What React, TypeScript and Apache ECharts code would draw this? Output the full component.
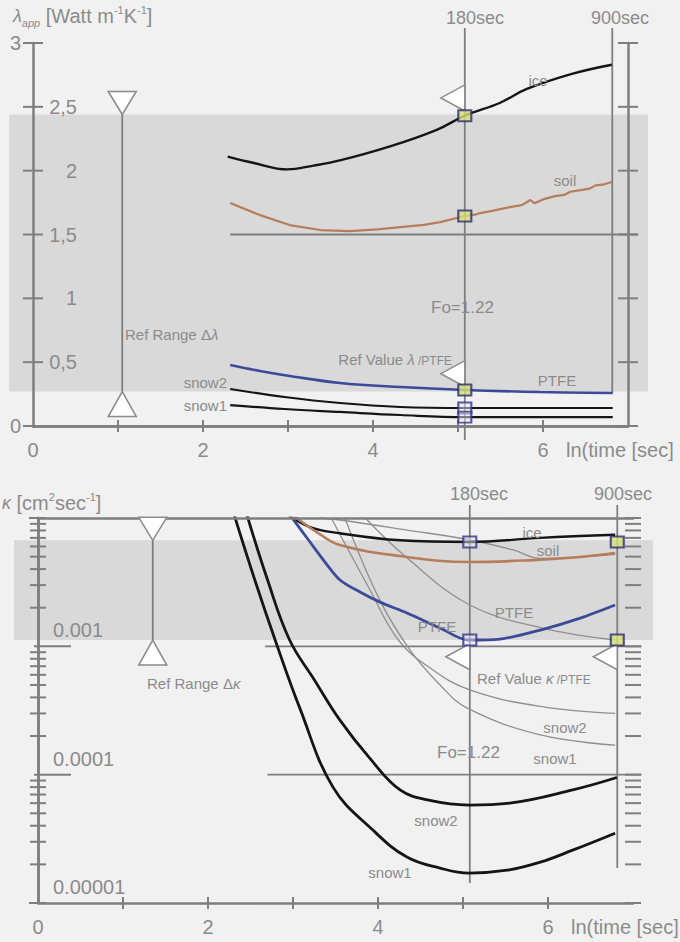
import React, { useEffect, useRef } from "react";
import * as echarts from "echarts";

const FONT = "'Liberation Sans', Arial, Helvetica, sans-serif";
const TXT = "#8b8b8b";
const AXIS = "#7e7e7e";
const BLACK = "#151515";
const SOIL = "#b67d5b";
const BLUE = "#3c4b98";
const THIN = "#8f8f8f";
const BAND = "#d9d9d9";
const BG = "#f1f1f1";

// ---------- shared x: ln(time [sec]) ----------
const X_MIN = 0;
const X_MAX = 7;
const T180 = 5.08;
const T900 = 6.815;
const xTickValues = [1, 2, 3, 4, 5, 6];

// ---------- top panel: lambda_app [W m-1 K-1] ----------
const lambdaTicks = [0, 0.5, 1, 1.5, 2, 2.5, 3];
const lambdaRefRange = [0.27, 2.44];
const lambdaRefRangeX = 1.05;
const lambdaRefLevel = 1.5;
const lambdaIce = [[2.29, 2.11], [2.6, 2.06], [2.99, 2.01], [3.3, 2.04], [3.61, 2.08], [4.2, 2.19], [4.75, 2.32], [5.08, 2.43], [5.49, 2.53], [5.81, 2.64], [6.35, 2.76], [6.81, 2.83]];
const lambdaSoil = [[2.32, 1.746], [2.67, 1.652], [3.02, 1.574], [3.38, 1.535], [3.73, 1.527], [4.05, 1.54], [4.32, 1.558], [4.6, 1.575], [4.79, 1.597], [5.08, 1.645], [5.2, 1.655], [5.26, 1.668], [5.4, 1.685], [5.61, 1.715], [5.75, 1.73], [5.85, 1.77], [5.9, 1.745], [6.0, 1.775], [6.14, 1.801], [6.25, 1.81], [6.32, 1.835], [6.44, 1.848], [6.55, 1.86], [6.62, 1.885], [6.7, 1.89], [6.81, 1.911]];
const lambdaPTFE = [[2.32, 0.478], [2.67, 0.431], [3.02, 0.392], [3.61, 0.337], [4.32, 0.305], [5.08, 0.282], [5.96, 0.266], [6.82, 0.258]];
const lambdaSnow2 = [[2.32, 0.29], [2.96, 0.227], [3.61, 0.18], [4.32, 0.149], [5.08, 0.141], [6.82, 0.141]];
const lambdaSnow1 = [[2.32, 0.164], [2.96, 0.133], [3.61, 0.11], [4.32, 0.086], [5.08, 0.07], [6.82, 0.07]];
const lambdaMarksFilled = [2.43, 1.645, 0.282];
const lambdaMarksOpen = [0.141, 0.07];
const lambdaRefValues = [2.57, 0.41];

// ---------- bottom panel: kappa [cm2 sec-1] ----------
const kappaDecades = [1e-5, 1e-4, 1e-3, 1e-2];
const kappaRefRange = [1.12e-3, 6.7e-3];
const kappaRefRangeX = 1.35;
const kappaRefLevels = [1e-3, 1e-4];
const kappaIce = [[2.9, 1.1e-2], [3.2, 8.5e-3], [3.55, 7.6e-3], [4.26, 6.7e-3], [5.08, 6.5e-3], [5.91, 7.0e-3], [6.79, 7.4e-3]];
const kappaSoil = [[3.0, 1.05e-2], [3.3, 7.6e-3], [3.55, 6.16e-3], [4.26, 5.05e-3], [5.08, 4.54e-3], [5.82, 4.7e-3], [6.38, 4.97e-3], [6.79, 5.33e-3]];
const kappaPTFE = [[2.99, 1.0e-2], [3.2, 6.5e-3], [3.376, 4.54e-3], [3.553, 3.29e-3], [3.788, 2.65e-3], [4.024, 2.21e-3], [4.341, 1.82e-3], [4.73, 1.39e-3], [5.06, 1.12e-3], [5.435, 1.14e-3], [5.91, 1.34e-3], [6.38, 1.66e-3], [6.79, 2.1e-3]];
const kappaSnow1 = [[2.3, 1.1e-2], [2.55, 3.3e-3], [2.79, 1.12e-3], [3.08, 3.3e-4], [3.47, 8.0e-5], [3.94, 3.7e-5], [4.34, 2.28e-5], [4.73, 1.87e-5], [5.07, 1.71e-5], [5.52, 1.8e-5], [5.91, 2.08e-5], [6.29, 2.58e-5], [6.79, 3.5e-5]];
const kappaSnow2 = [[2.45, 1.1e-2], [2.7, 3.3e-3], [2.96, 1.12e-3], [3.25, 5.5e-4], [3.55, 2.67e-4], [3.9, 1.35e-4], [4.26, 7.6e-5], [4.61, 6.3e-5], [5.07, 5.8e-5], [5.55, 6.0e-5], [6.29, 7.6e-5], [6.81, 9.5e-5]];
const kappaModelSoil = [[3.32, 1.0e-2], [3.55, 9.65e-3], [4.34, 8.06e-3], [5.08, 6.74e-3], [5.59, 5.64e-3], [5.91, 4.85e-3], [6.79, 5.2e-3]];
const kappaModelPTFE = [[3.85, 1.0e-2], [4.34, 4.9e-3], [5.08, 2.1e-3], [5.91, 1.4e-3], [6.79, 1.12e-3]];
const kappaModelSnow2 = [[3.45, 1.0e-2], [3.9, 2.8e-3], [4.24, 1.12e-3], [4.61, 6.8e-4], [5.08, 4.57e-4], [5.91, 3.4e-4], [6.79, 3.0e-4]];
const kappaModelSnow1 = [[3.61, 1.0e-2], [4.02, 2.3e-3], [4.38, 9.3e-4], [4.73, 5.0e-4], [5.05, 3.3e-4], [5.91, 2.04e-4], [6.79, 1.7e-4]];
const kappaMarks180 = [6.5e-3, 1.12e-3];
const kappaMarks900 = [6.5e-3, 1.12e-3];
const kappaRefValue = 8.3e-4;

// ---------- render helpers ----------
const segRender = (color: string, width: number) => (_p: any, api: any) => {
  const a = api.coord([api.value(0), api.value(1)]);
  const b = api.coord([api.value(2), api.value(3)]);
  return { type: "line", shape: { x1: a[0], y1: a[1], x2: b[0], y2: b[1] }, style: { stroke: color, lineWidth: width } };
};

const tickRender = (_p: any, api: any) => {
  const p = api.coord([api.value(0), api.value(1)]);
  const dir = api.value(2);
  const a = api.value(3);
  const b = api.value(4);
  const shape = dir === 0
    ? { x1: p[0] - a, y1: p[1], x2: p[0] + b, y2: p[1] }
    : { x1: p[0], y1: p[1] - a, x2: p[0], y2: p[1] + b };
  return { type: "line", shape, style: { stroke: AXIS, lineWidth: 2 } };
};

const bandRender = (params: any, api: any) => {
  const cs = params.coordSys;
  const a = api.coord([api.value(0), api.value(2)]);
  const b = api.coord([api.value(0), api.value(1)]);
  return {
    type: "rect",
    shape: { x: cs.x - 24, y: a[1], width: cs.width + 44, height: b[1] - a[1] },
    style: { fill: BAND },
  };
};

const triRender = (_p: any, api: any) => {
  const p = api.coord([api.value(0), api.value(1)]);
  const k = api.value(2);
  let pts: number[][];
  if (k === 0) pts = [[p[0] - 14, p[1] - 23], [p[0] + 14, p[1] - 23], [p[0], p[1]]];
  else if (k === 1) pts = [[p[0] - 14, p[1] + 25], [p[0] + 14, p[1] + 25], [p[0], p[1]]];
  else pts = [[p[0], p[1] - 13], [p[0], p[1] + 13], [p[0] - 24, p[1]]];
  return { type: "polygon", shape: { points: pts }, style: { fill: "#ffffff", stroke: "#8a8a8a", lineWidth: 1.5 } };
};

function buildOption() {
  const minorKappa: number[] = [];
  for (let d = -5; d <= -3; d++) for (let k = 2; k <= 9; k++) minorKappa.push(k * Math.pow(10, d));

  const topTicks: number[][] = [];
  lambdaTicks.forEach((v) => { topTicks.push([X_MIN, v, 0, 10, 10]); topTicks.push([X_MAX, v, 0, 10, 10]); });
  xTickValues.forEach((x) => topTicks.push([x, 0, 1, 6, 6]));

  const botTicks: number[][] = [];
  kappaDecades.forEach((v) => {
    const inner = v === 1e-3 || v === 1e-4;
    botTicks.push([X_MIN, v, 0, inner ? 4 : 9, inner ? 33 : 8]);
    botTicks.push([X_MAX, v, 0, 8, 8]);
  });
  minorKappa.forEach((v) => { botTicks.push([X_MIN, v, 0, 8, 8]); botTicks.push([X_MAX, v, 0, 8, 8]); });
  xTickValues.forEach((x) => botTicks.push([x, 1e-5, 1, 6, 6]));

  const lineS = (name: string, data: number[][], color: string, width: number, xi: number, yi: number, smooth = 0.4) => ({
    name, type: "line", data, xAxisIndex: xi, yAxisIndex: yi, showSymbol: false, smooth, z: 3,
    lineStyle: { color, width }, clip: true,
  });

  const axisLineStyle = { show: true, lineStyle: { color: AXIS, width: 2.5 } };
  const labelBase = { color: TXT, fontSize: 20, fontFamily: FONT };

  const xAxisBottom = (gi: number) => ({
    type: "value", gridIndex: gi, min: X_MIN, max: X_MAX, interval: 1, position: "bottom", z: 4,
    axisLine: axisLineStyle, axisTick: { show: false }, splitLine: { show: false },
    axisLabel: { ...labelBase, interval: 0, margin: 14, formatter: (v: number) => (v % 2 === 0 && v < 7 ? String(v) : "") },
    name: "ln(time [sec]", nameLocation: "end", nameGap: -62,
    nameTextStyle: { ...labelBase, align: "left", verticalAlign: "top", padding: [14, 0, 0, 0] },
  });
  const xAxisTop = (gi: number) => ({
    type: "value", gridIndex: gi, min: X_MIN, max: X_MAX, position: "top", z: 4,
    axisLine: axisLineStyle, axisTick: { show: false }, axisLabel: { show: false }, splitLine: { show: false },
  });

  const seg = (data: number[][], color: string, width: number, xi: number, yi: number, z = 4) => ({
    type: "custom", xAxisIndex: xi, yAxisIndex: yi, data, renderItem: segRender(color, width), z, silent: true,
  });

  const filledMark = { color: "#d6df78", borderColor: "#2a2d6e", borderWidth: 2 };
  const openMark = { color: "rgba(235,235,245,0.6)", borderColor: "#33358a", borderWidth: 2 };

  const txt = (text: string, x: number, y: number, size = 15, align = "center", extra: any = {}) => ({
    type: "text", x, y, z: 50,
    style: { text, fill: TXT, fontSize: size, fontFamily: FONT, align, textAlign: align, verticalAlign: "middle", textVerticalAlign: "middle", ...extra },
  });
  const richBase = {
    n: { fontSize: 20, fontFamily: FONT, fill: TXT, color: TXT, lineHeight: 24 },
    i: { fontSize: 18, fontFamily: FONT, fontStyle: "italic", fill: TXT, color: TXT, lineHeight: 24 },
    sub: { fontSize: 11, fontFamily: FONT, fontStyle: "italic", fill: TXT, color: TXT, lineHeight: 24, verticalAlign: "bottom" },
    sup: { fontSize: 11, fontFamily: FONT, fill: TXT, color: TXT, lineHeight: 24, verticalAlign: "top" },
    s: { fontSize: 15, fontFamily: FONT, fill: TXT, color: TXT, lineHeight: 18, verticalAlign: "bottom" },
    si: { fontSize: 15, fontFamily: FONT, fontStyle: "italic", fill: TXT, color: TXT, lineHeight: 18, verticalAlign: "bottom" },
    ss: { fontSize: 12, fontFamily: FONT, fill: TXT, color: TXT, lineHeight: 16, verticalAlign: "bottom" },
  };

  return {
    animation: false,
    backgroundColor: BG,
    grid: [
      { left: 33, top: 43, width: 595, height: 383 },
      { left: 38, top: 518, width: 595, height: 385 },
    ],
    xAxis: [xAxisBottom(0), xAxisTop(0), xAxisBottom(1), xAxisTop(1)],
    yAxis: [
      {
        type: "value", gridIndex: 0, min: 0, max: 3, interval: 0.5, position: "left", z: 4,
        axisLine: axisLineStyle, axisTick: { show: false }, splitLine: { show: false },
        axisLabel: { ...labelBase, margin: 12, formatter: (v: number) => (v === 0 || v === 3 ? String(v) : "") },
      },
      {
        type: "value", gridIndex: 0, min: 0, max: 3, interval: 0.5, position: "left", z: 4,
        axisLine: { show: false }, axisTick: { show: false }, splitLine: { show: false },
        axisLabel: { ...labelBase, inside: true, align: "right", margin: 44, formatter: (v: number) => (v > 0 && v < 3 ? String(v).replace(".", ",") : "") },
      },
      {
        type: "value", gridIndex: 0, min: 0, max: 3, interval: 0.5, position: "right", z: 4,
        axisLine: axisLineStyle, axisTick: { show: false }, axisLabel: { show: false }, splitLine: { show: false },
      },
      {
        type: "log", logBase: 10, gridIndex: 1, min: 1e-5, max: 1e-2, position: "left", z: 4,
        axisLine: axisLineStyle, axisTick: { show: false }, splitLine: { show: false },
        axisLabel: {
          ...labelBase, inside: true, margin: 15, verticalAlign: "bottom", padding: [0, 0, 6, 0],
          formatter: (v: number) => (v >= 0.005 ? "" : v.toFixed(Math.round(-Math.log10(v)))),
        },
      },
      {
        type: "log", logBase: 10, gridIndex: 1, min: 1e-5, max: 1e-2, position: "right", z: 4,
        axisLine: axisLineStyle, axisTick: { show: false }, axisLabel: { show: false }, splitLine: { show: false },
      },
    ],
    series: [
      // bands
      { type: "custom", xAxisIndex: 0, yAxisIndex: 0, data: [[X_MIN, lambdaRefRange[0], lambdaRefRange[1]]], renderItem: bandRender, z: 0, silent: true },
      { type: "custom", xAxisIndex: 2, yAxisIndex: 3, data: [[X_MIN, kappaRefRange[0], kappaRefRange[1]]], renderItem: bandRender, z: 0, silent: true },
      // reference lines
      seg([[2.32, lambdaRefLevel, 7.12, lambdaRefLevel], [T180, 3.117, T180, -0.11], [T900, 3.117, T900, 0.258], [lambdaRefRangeX, lambdaRefRange[0], lambdaRefRangeX, lambdaRefRange[1]]], AXIS, 1.8, 0, 0, 2),
      seg([[2.67, kappaRefLevels[0], 7.1, kappaRefLevels[0]], [2.7, kappaRefLevels[1], 7.1, kappaRefLevels[1]], [T180, 0.0126, T180, 1.43e-5], [T900, 0.0126, T900, 1.87e-5], [kappaRefRangeX, kappaRefRange[0], kappaRefRangeX, kappaRefRange[1]]], AXIS, 1.8, 2, 3, 2),
      // ticks
      { type: "custom", xAxisIndex: 0, yAxisIndex: 0, data: topTicks, renderItem: tickRender, z: 5, silent: true },
      { type: "custom", xAxisIndex: 2, yAxisIndex: 3, data: botTicks, renderItem: tickRender, z: 5, silent: true },
      // top curves
      lineS("ice", lambdaIce, BLACK, 2.4, 0, 0),
      lineS("soil", lambdaSoil, SOIL, 2.2, 0, 0, 0),
      lineS("PTFE", lambdaPTFE, BLUE, 2.6, 0, 0),
      lineS("snow2", lambdaSnow2, BLACK, 2.2, 0, 0),
      lineS("snow1", lambdaSnow1, BLACK, 2.2, 0, 0),
      // bottom model curves (thin)
      lineS("model soil", kappaModelSoil, THIN, 1.3, 2, 3),
      lineS("model PTFE", kappaModelPTFE, THIN, 1.3, 2, 3),
      lineS("model snow2", kappaModelSnow2, THIN, 1.3, 2, 3),
      lineS("model snow1", kappaModelSnow1, THIN, 1.3, 2, 3),
      // bottom measured curves
      lineS("ice k", kappaIce, BLACK, 2.4, 2, 3),
      lineS("soil k", kappaSoil, SOIL, 2.6, 2, 3),
      lineS("PTFE k", kappaPTFE, BLUE, 2.8, 2, 3, 0.3),
      lineS("snow2 k", kappaSnow2, BLACK, 2.8, 2, 3),
      lineS("snow1 k", kappaSnow1, BLACK, 2.8, 2, 3),
      // triangles
      {
        type: "custom", xAxisIndex: 0, yAxisIndex: 0, z: 6, silent: true, renderItem: triRender,
        data: [[lambdaRefRangeX, lambdaRefRange[1], 0], [lambdaRefRangeX, lambdaRefRange[0], 1], [T180, lambdaRefValues[0], 2], [T180, lambdaRefValues[1], 2]],
      },
      {
        type: "custom", xAxisIndex: 2, yAxisIndex: 3, z: 6, silent: true, renderItem: triRender,
        data: [[kappaRefRangeX, kappaRefRange[1], 0], [kappaRefRangeX, kappaRefRange[0], 1], [T180, kappaRefValue, 2], [T900, kappaRefValue, 2]],
      },
      // markers
      { type: "scatter", xAxisIndex: 0, yAxisIndex: 0, z: 8, symbol: "rect", symbolSize: [13, 11], itemStyle: filledMark, data: lambdaMarksFilled.map((v) => [T180, v]) },
      { type: "scatter", xAxisIndex: 0, yAxisIndex: 0, z: 8, symbol: "rect", symbolSize: [13, 11], itemStyle: openMark, data: lambdaMarksOpen.map((v) => [T180, v]) },
      { type: "scatter", xAxisIndex: 2, yAxisIndex: 3, z: 8, symbol: "rect", symbolSize: [13, 11], itemStyle: openMark, data: kappaMarks180.map((v) => [T180, v]) },
      { type: "scatter", xAxisIndex: 2, yAxisIndex: 3, z: 8, symbol: "rect", symbolSize: [13, 11], itemStyle: filledMark, data: kappaMarks900.map((v) => [T900, v]) },
    ],
    graphic: [
      { type: "text", x: 13, y: 4, z: 50, style: { text: "{i|λ}{sub|app}{n| [Watt m}{sup|-1}{n|K}{sup|-1}{n|]}", rich: richBase, fill: TXT, fontFamily: FONT } },
      txt("180sec", 475, 18, 18),
      txt("900sec", 620, 18, 18),
      txt("ice", 538, 80),
      txt("soil", 565, 180),
      txt("Fo=1.22", 431, 307, 17, "left"),
      { type: "text", x: 452, y: 358, z: 50, style: { text: "{s|Ref Value }{si|λ}{ss| /PTFE}", rich: richBase, align: "right", textAlign: "right", verticalAlign: "middle", textVerticalAlign: "middle", fill: TXT } },
      txt("PTFE", 557, 380),
      { type: "text", x: 125, y: 333, z: 50, style: { text: "{s|Ref Range Δ}{si|λ}", rich: richBase, align: "left", textAlign: "left", verticalAlign: "middle", textVerticalAlign: "middle", fill: TXT } },
      txt("snow2", 227, 382, 15, "right"),
      txt("snow1", 227, 405, 15, "right"),
      // bottom
      { type: "text", x: 2, y: 491, z: 50, style: { text: "{i|κ}{n| [cm}{sup|2}{n|sec}{sup|-1}{n|]}", rich: richBase, fill: TXT, fontFamily: FONT } },
      txt("180sec", 479, 494, 18),
      txt("900sec", 623, 494, 18),
      txt("ice", 532, 532),
      txt("soil", 548, 550),
      txt("PTFE", 514, 612),
      txt("PTFE", 437, 626),
      { type: "text", x: 477, y: 677, z: 50, style: { text: "{s|Ref Value }{si|κ}{ss| /PTFE}", rich: richBase, align: "left", textAlign: "left", verticalAlign: "middle", textVerticalAlign: "middle", fill: TXT } },
      { type: "text", x: 147, y: 682, z: 50, style: { text: "{s|Ref Range Δ}{si|κ}", rich: richBase, align: "left", textAlign: "left", verticalAlign: "middle", textVerticalAlign: "middle", fill: TXT } },
      txt("snow2", 565, 727),
      txt("snow1", 555, 758),
      txt("Fo=1.22", 437, 752, 17, "left"),
      txt("snow2", 436, 820),
      txt("snow1", 390, 872),
    ],
  };
}

export default function App() {
  const ref = useRef<HTMLDivElement>(null);
  useEffect(() => {
    if (!ref.current) return;
    const chart = echarts.init(ref.current, null, { renderer: "svg" });
    chart.setOption(buildOption() as any);
    return () => chart.dispose();
  }, []);
  return <div ref={ref} style={{ position: "fixed", left: 0, top: 0, width: 680, height: 942 }} />;
}
